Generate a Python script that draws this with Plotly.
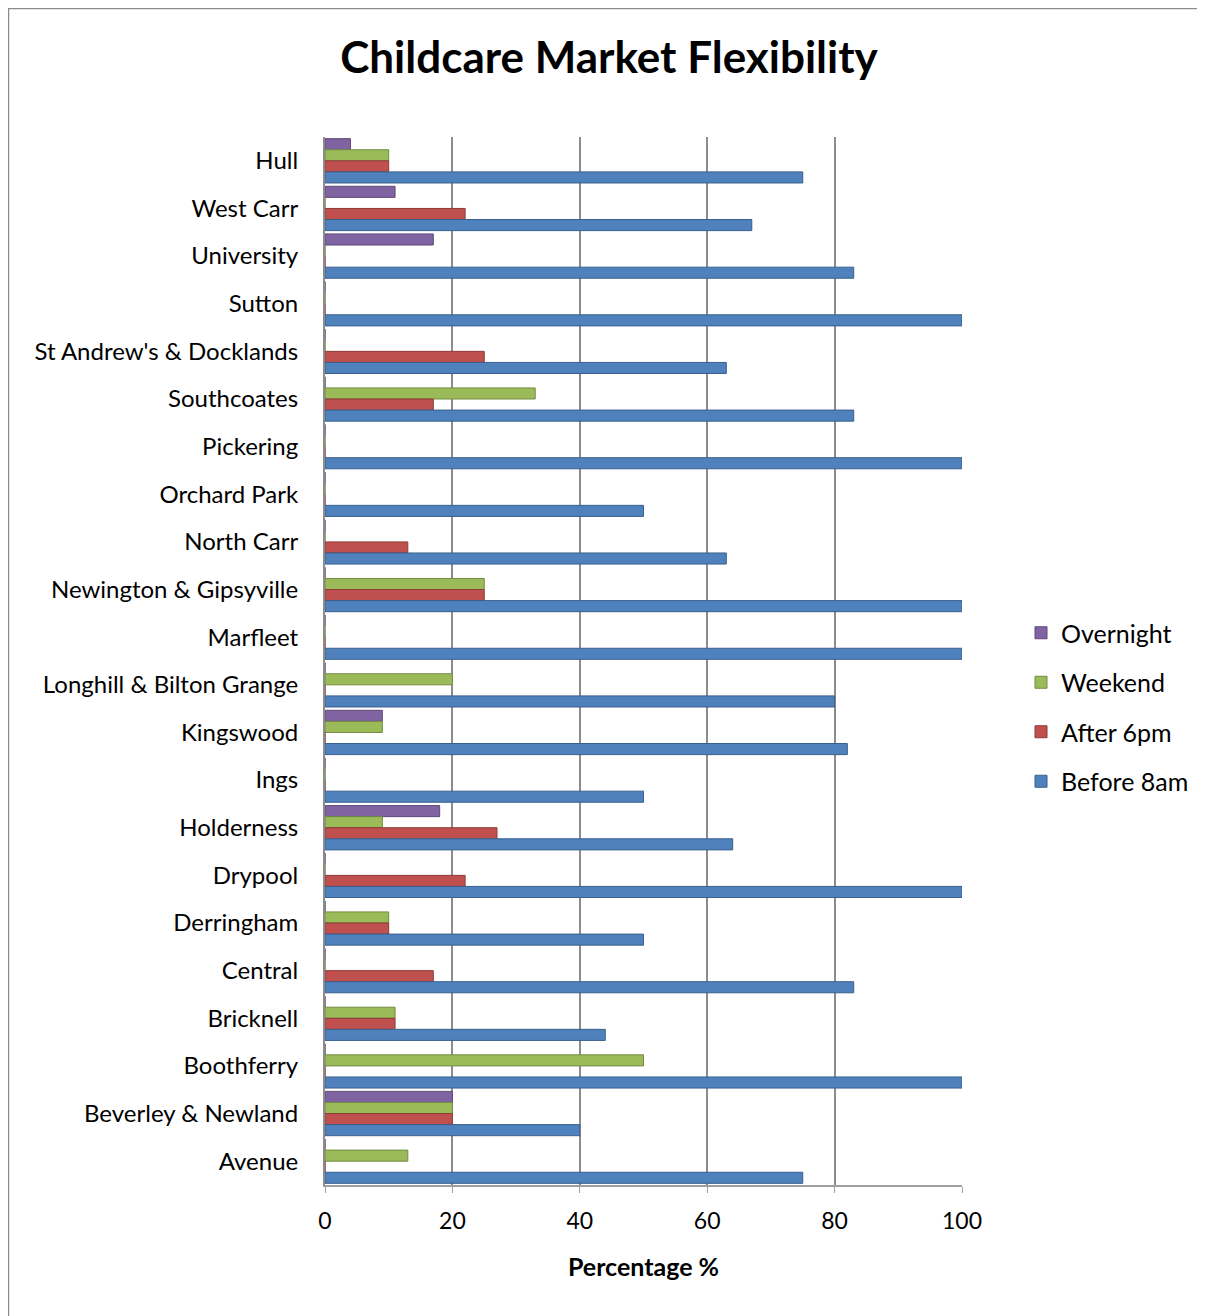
import plotly.graph_objects as go

categories = ["Hull", "West Carr", "University", "Sutton", "St Andrew's & Docklands",
              "Southcoates", "Pickering", "Orchard Park", "North Carr",
              "Newington & Gipsyville", "Marfleet", "Longhill & Bilton Grange",
              "Kingswood", "Ings", "Holderness", "Drypool", "Derringham", "Central",
              "Bricknell", "Boothferry", "Beverley & Newland", "Avenue"]

overnight = [4, 11, 17, 0, 0, 0, 0, 0, 0, 0, 0, 0, 9, 0, 18, 0, 0, 0, 0, 0, 20, 0]
weekend = [10, 0, 0, 0, 0, 33, 0, 0, 0, 25, 0, 20, 9, 0, 9, 0, 10, 0, 11, 50, 20, 13]
after_6pm = [10, 22, 0, 0, 25, 17, 0, 0, 13, 25, 0, 0, 0, 0, 27, 22, 10, 17, 11, 0, 20, 0]
before_8am = [75, 67, 83, 100, 63, 83, 100, 50, 63, 100, 100, 80, 82, 50, 64, 100, 50, 83, 44, 100, 40, 75]

series = [
    ("Overnight", overnight, "#8064A2", "#5E4A7A"),
    ("Weekend", weekend, "#9BBB59", "#738B42"),
    ("After 6pm", after_6pm, "#C0504D", "#8E3B39"),
    ("Before 8am", before_8am, "#4F81BD", "#3A5F8C"),
]

fig = go.Figure()
for i, (name, vals, col, line) in enumerate(series):
    fig.add_trace(go.Bar(
        y=categories, x=vals, name=name, orientation="h",
        marker=dict(color=col, line=dict(color=line, width=1)),
        legendgroup=f"g{i}",
    ))

# page offset of the figure (body margin)
OFF = 8
W, H = 1197, 1308
L, R, T, B = 317, 243, 129, 131
pw = W - L - R
ph = H - T - B

def px_x(p):  # page pixel -> paper x
    return (p - OFF - L) / pw

def px_y(p):  # page pixel -> paper y
    return (H - B - (p - OFF)) / ph

fig.update_layout(
    width=W, height=H,
    margin=dict(l=L, r=R, t=T, b=B, autoexpand=False),
    paper_bgcolor="white", plot_bgcolor="white",
    barmode="group", bargap=0.07, bargroupgap=0,
    font=dict(family="Lato, Noto Sans, sans-serif", size=24, color="#000000"),
    title=dict(text="<b>Childcare Market Flexibility</b>", x=px_x(609), xref="paper",
               xanchor="center", y=1 - (58 - OFF) / H, yanchor="middle",
               font=dict(size=44, color="#000000")),
    legend=dict(x=px_x(1021), y=px_y(707), xanchor="left", yanchor="middle",
                font=dict(size=25), tracegroupgap=14, traceorder="grouped",
                itemwidth=30, bgcolor="rgba(0,0,0,0)"),
    showlegend=True,
    shapes=[dict(type="rect", xref="paper", yref="paper",
                 x0=px_x(OFF + 0.5), x1=px_x(1220), y0=px_y(1330), y1=px_y(OFF + 0.5),
                 line=dict(color="#8c8c8c", width=1.5), layer="below")],
)
fig.update_xaxes(range=[0, 100], tickvals=[0, 20, 40, 60, 80, 100],
                 showgrid=True, gridcolor="#8c8c8c", gridwidth=2,
                 showline=True, linecolor="#a0a0a0", linewidth=2,
                 ticks="outside", ticklen=6, tickcolor="#a0a0a0",
                 ticklabelstandoff=8,
                 zeroline=False,
                 title=dict(text="<b>Percentage %</b>", font=dict(size=25), standoff=26),
                 tickfont=dict(size=23))
fig.update_yaxes(autorange="reversed", showline=True, linecolor="#8c8c8c", linewidth=2,
                 ticks="", ticklabelstandoff=20, tickfont=dict(size=24),
                 showgrid=False)

fig.write_html("out.html")
